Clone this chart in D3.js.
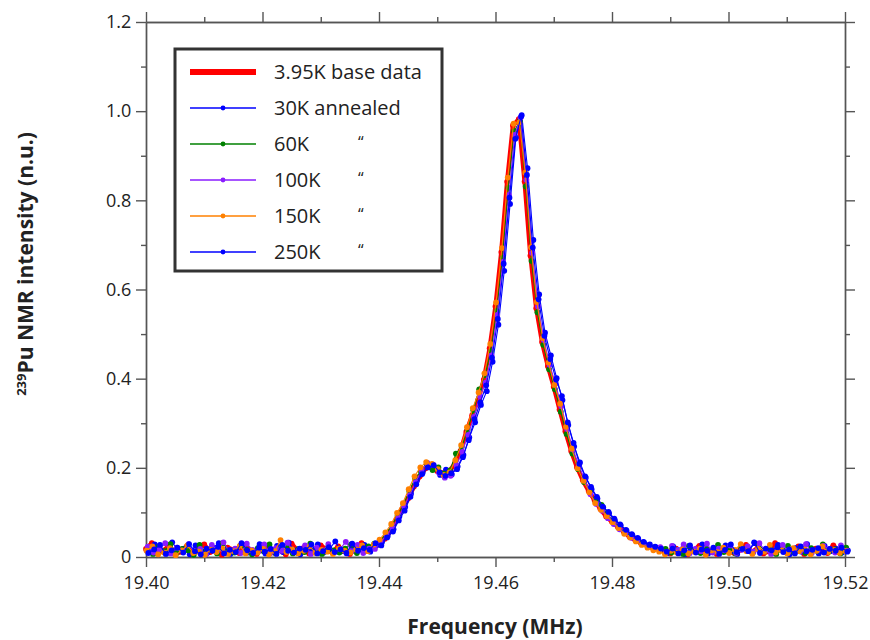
<!DOCTYPE html>
<html>
<head>
<meta charset="utf-8">
<script src="https://cdn.jsdelivr.net/npm/d3@7"></script>
<style>
  body { margin: 0; background: #fff; }
  text { font-family: "Open Sans", sans-serif; fill: #222; }
</style>
</head>
<body>
<script>
var w = 870;
var h = 640;

// frequency grid (MHz), one sample every kHz
var freqStart = 19.400;
var freqStep = 0.001;

// small frequency shift of each run's sampling grid (MHz)
var shifts = [0, 0.0005, 0.0002, 0.0003, 0.0001, 0.0004];

var names = ["3.95K base data", "30K annealed", "60K", "100K", "150K", "250K"];
var colors = ["#ff0000", "#0000ff", "#008000", "#8a1cff", "#ff8000", "#0000ff"];

var base395 = [
  .018,.031,.008,.014,.026,.006,.012,.024,.009,.017,
  .028,.011,.015,.005,.021,.016,.009,.027,.013,.007,
  .019,.025,.010,.015,.006,.030,.014,.020,.008,.012,
  .026,.016,.010,.024,.013,.007,.018,.031,.014,
  .022,.028,.041,.058,.083,.108,.131,.158,.181,.199,
  .204,.193,.188,.191,.209,.238,.281,.318,.352,.398,
  .468,.562,.684,.842,.968,.982,.842,.676,.558,.482,
  .428,.382,.331,.282,.238,.201,.172,.148,.128,.108,
  .091,.079,.068,.057,.046,.038,.031,.026,.021,.019,
  .013,.008,.019,.011,.006,.015,.025,.010,.014,.007,
  .018,.012,.009,.016,.027,.011,.020,.008,.013,.031,
  .017,.010,.015,.024,.007,.012,.019,.014,.009,.026,
  .011,.016
];

var ann30 = [
  .011,.028,.016,.008,.033,.014,.019,.006,.026,.012,
  .009,.021,.031,.015,.007,.018,.027,.010,.013,.029,
  .008,.017,.025,.011,.032,.015,.006,.020,.014,.028,
  .010,.018,.035,.013,.008,.021,.016,.027,.012,
  .025,.033,.047,.062,.091,.112,.142,.171,.189,.206,
  .198,.184,.196,.185,.203,.229,.268,.302,.341,.372,
  .438,.521,.642,.792,.941,.991,.872,.711,.589,.503,
  .452,.401,.352,.296,.248,.212,.178,.152,.131,.111,
  .098,.082,.071,.059,.049,.041,.033,.028,.022,.018,
  .009,.024,.014,.006,.018,.012,.028,.008,.016,.010,
  .026,.013,.007,.019,.015,.031,.011,.017,.009,.027,
  .014,.006,.020,.012,.029,.016,.008,.025,.013,.018,
  .010,.015
];

var ann60 = [
  .016,.007,.024,.013,.029,.009,.018,.015,.005,.027,
  .012,.019,.008,.031,.014,.010,.025,.017,.006,.020,
  .013,.028,.009,.016,.026,.008,.018,.011,.030,.014,
  .007,.021,.015,.010,.019,.028,.009,.016,.024,
  .030,.036,.052,.071,.093,.118,.148,.176,.192,.208,
  .195,.201,.187,.194,.232,.247,.285,.329,.376,.408,
  .462,.552,.671,.828,.955,.978,.831,.664,.549,.476,
  .421,.376,.326,.276,.232,.197,.168,.146,.124,.117,
  .094,.083,.066,.055,.048,.036,.030,.024,.020,.017,
  .018,.010,.016,.007,.025,.013,.009,.019,.015,.027,
  .011,.017,.008,.021,.014,.010,.029,.013,.018,.007,
  .015,.025,.011,.016,.009,.020,.014,.028,.012,.017,
  .008,.021
];

var ann100 = [
  .023,.010,.017,.031,.008,.021,.014,.029,.011,.018,
  .006,.027,.015,.033,.012,.019,.009,.030,.016,.013,
  .028,.008,.020,.014,.032,.011,.017,.026,.007,.021,
  .015,.029,.010,.018,.034,.013,.027,.009,.019,
  .018,.034,.049,.066,.087,.114,.139,.168,.194,.211,
  .207,.189,.178,.182,.206,.236,.274,.314,.361,.391,
  .452,.543,.662,.812,.947,.985,.846,.682,.562,.487,
  .431,.389,.338,.287,.241,.206,.174,.141,.119,.104,
  .087,.074,.062,.054,.043,.037,.029,.024,.018,.022,
  .011,.025,.016,.028,.008,.018,.013,.030,.010,.019,
  .015,.026,.009,.016,.024,.012,.031,.014,.007,.020,
  .027,.011,.017,.013,.029,.009,.015,.025,.018,.010,
  .026,.014
];

var ann150 = [
  .014,.024,.006,.010,.020,.004,.015,.026,.009,.012,
  .005,.016,.011,.019,.007,.013,.025,.008,.015,.010,
  .018,.006,.013,.038,.011,.017,.008,.014,.024,.009,
  .016,.012,.007,.019,.014,.010,.017,.026,.013,
  .028,.039,.055,.074,.099,.121,.152,.181,.201,.213,
  .209,.197,.184,.190,.217,.251,.291,.334,.369,.412,
  .478,.571,.693,.851,.972,.975,.862,.695,.572,.491,
  .436,.386,.344,.292,.243,.199,.171,.145,.121,.106,
  .092,.078,.065,.052,.044,.035,.027,.021,.015,.012,
  .006,.014,.010,.017,.008,.012,.019,.005,.015,.011,
  .021,.009,.016,.029,.013,.007,.018,.012,.027,.010,
  .015,.008,.020,.013,.017,.006,.014,.024,.011,.016,
  .009,.013
];

var ann250 = [
  .009,.017,.027,.007,.015,.021,.010,.029,.013,.006,
  .019,.014,.023,.008,.016,.011,.031,.015,.009,.021,
  .012,.018,.007,.027,.014,.010,.019,.016,.028,.008,
  .013,.022,.011,.017,.009,.030,.014,.020,.016,
  .031,.026,.044,.057,.082,.104,.135,.163,.186,.201,
  .206,.190,.182,.188,.197,.224,.262,.309,.347,.385,
  .447,.534,.658,.806,.938,.988,.857,.694,.578,.496,
  .444,.398,.361,.302,.256,.209,.181,.157,.135,.113,
  .101,.086,.073,.061,.051,.043,.034,.027,.023,.019,
  .012,.019,.008,.015,.026,.010,.017,.014,.021,.007,
  .016,.028,.011,.018,.013,.033,.009,.019,.015,.022,
  .011,.017,.008,.024,.013,.016,.020,.010,.018,.014,
  .021,.012
];

var runs = [base395, ann30, ann60, ann100, ann150, ann250];

var xMajor = [19.40, 19.42, 19.44, 19.46, 19.48, 19.50, 19.52];
var xMinor = [19.41, 19.43, 19.45, 19.47, 19.49, 19.51];
var yMajor = [0, 0.2, 0.4, 0.6, 0.8, 1.0, 1.2];
var yMinor = [0.1, 0.3, 0.5, 0.7, 0.9, 1.1];

var svg = d3.select("body").append("svg")
            .attr("width", w)
            .attr("height", h);

var x = d3.scaleLinear().domain([19.40, 19.52]).range([146, 845]);
var y = d3.scaleLinear().domain([0, 1.2]).range([557, 22]);

// plot frame with ticks on all four sides, pointing outward
function frame(axisFn, scale, major, minor, pos, labels) {
  var gMin = svg.append("g").attr("transform", pos)
     .call(axisFn(scale).tickValues(minor).tickSize(5).tickSizeOuter(0).tickFormat(""));
  var gMaj = svg.append("g").attr("transform", pos)
     .call(axisFn(scale).tickValues(major).tickSize(10).tickSizeOuter(0)
       .tickFormat(labels ? labels : ""));
  [gMin, gMaj].forEach(function(g) {
    g.select(".domain").attr("stroke", "#555").attr("stroke-width", 1.4);
    g.selectAll(".tick line").attr("stroke", "#555").attr("stroke-width", 1.4);
    g.selectAll(".tick text").attr("font-size", 18).attr("fill", "#222")
     .attr("font-family", "'Open Sans', sans-serif");
  });
  return gMaj;
}

var gx = frame(d3.axisBottom, x, xMajor, xMinor, "translate(0,557)", d3.format(".2f"));
gx.selectAll(".tick text").attr("dy", "1.05em");
frame(d3.axisTop, x, xMajor, xMinor, "translate(0,22)", null);
var gy = frame(d3.axisLeft, y, yMajor, yMinor, "translate(146,0)",
               function(d) { return d === 0 ? "0" : d3.format(".1f")(d); });
gy.selectAll(".tick text").attr("dx", "-0.1em");
frame(d3.axisRight, y, yMajor, yMinor, "translate(845,0)", null);

// spectra
var line = d3.line()
  .x(function(d) { return x(d.f); })
  .y(function(d) { return y(d.v); });

runs.forEach(function(vals, k) {
  var pts = vals.map(function(v, i) {
    return { f: freqStart + i * freqStep + shifts[k], v: v };
  });
  var g = svg.append("g");
  g.append("path")
    .datum(pts)
    .attr("d", line)
    .attr("fill", "none")
    .attr("stroke", colors[k])
    .attr("stroke-width", k === 0 ? 4.5 : 1.1)
    .attr("stroke-linejoin", "round");
  g.selectAll("circle")
    .data(pts)
    .enter().append("circle")
    .attr("cx", function(d) { return x(d.f); })
    .attr("cy", function(d) { return y(d.v); })
    .attr("r", 2.9)
    .attr("fill", colors[k]);
});

// legend
var legend = svg.append("g");
legend.append("rect")
  .attr("x", 175).attr("y", 49)
  .attr("width", 267).attr("height", 222)
  .attr("fill", "#fff")
  .attr("stroke", "#333")
  .attr("stroke-width", 3);

names.forEach(function(name, k) {
  var ly = 72 + k * 36;
  legend.append("line")
    .attr("x1", 190).attr("x2", 256)
    .attr("y1", ly).attr("y2", ly)
    .attr("stroke", colors[k])
    .attr("stroke-width", k === 0 ? 6 : 1.3);
  legend.append("circle")
    .attr("cx", 223).attr("cy", ly).attr("r", k === 0 ? 1.5 : 2.4)
    .attr("fill", colors[k]);
  legend.append("text")
    .attr("x", 274).attr("y", ly + 7)
    .attr("font-size", 20)
    .text(name);
  if (k >= 2) {
    legend.append("text")
      .attr("x", 358).attr("y", ly + 4)
      .attr("font-size", 16)
      .text("\u201C");
  }
});

// axis titles
svg.append("text")
  .attr("x", 495).attr("y", 634)
  .attr("text-anchor", "middle")
  .attr("font-size", 21)
  .attr("font-weight", "bold")
  .text("Frequency (MHz)");

var yt = svg.append("text")
  .attr("transform", "translate(33,264) rotate(-90)")
  .attr("text-anchor", "middle")
  .attr("font-size", 21)
  .attr("font-weight", "bold");
yt.append("tspan").attr("font-size", 13).attr("dy", -7).text("239");
yt.append("tspan").attr("dy", 7).text("Pu NMR intensity (n.u.)");
</script>
</body>
</html>
